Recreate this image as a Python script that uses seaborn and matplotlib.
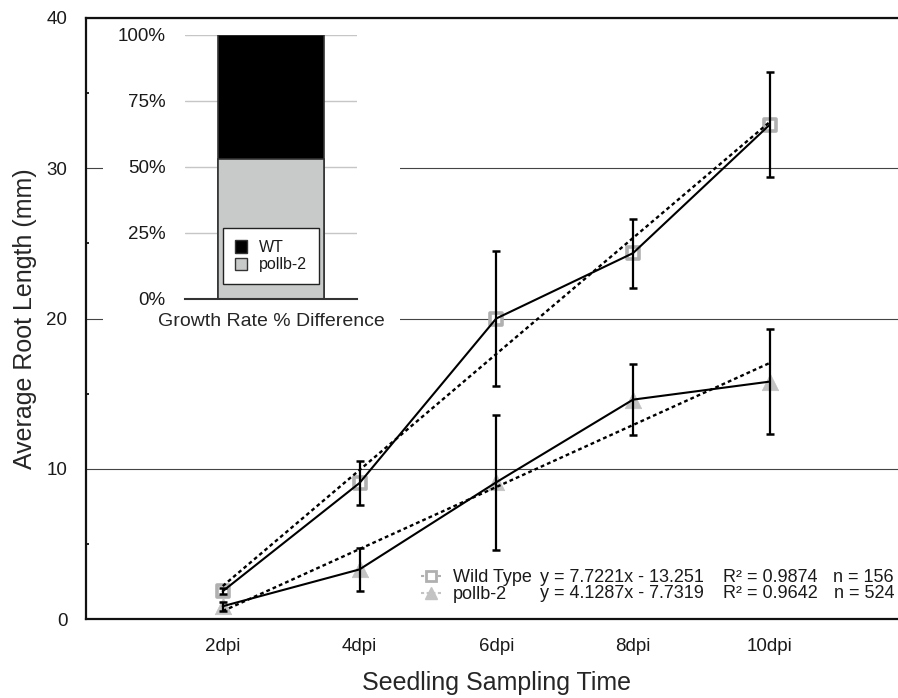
import numpy as np
import pandas as pd
import matplotlib
matplotlib.use("Agg")
import matplotlib.pyplot as plt
from matplotlib.lines import Line2D
from matplotlib.patches import Patch, Rectangle
import seaborn as sns

# ---------------- data ----------------
categories = ["2dpi", "4dpi", "6dpi", "8dpi", "10dpi"]
series_names = ["Wild Type", "pollb-2"]
wt_mean = [1.85, 9.05, 20.0, 24.35, 32.9]
wt_err = [0.2, 1.45, 4.5, 2.3, 3.5]
pol_mean = [0.85, 3.3, 9.1, 14.6, 15.8]
pol_err = [0.3, 1.43, 4.5, 2.35, 3.5]
wt_fit = [7.7221, -13.251]     # slope, intercept
pol_fit = [4.1287, -7.7319]
eq_labels = ["y = 7.7221x - 13.251", "y = 4.1287x - 7.7319"]
r2_labels = ["R\u00b2 = 0.9874", "R\u00b2 = 0.9642"]
n_labels = ["n = 156", "n = 524"]
inset_groups = ["WT", "pollb-2"]
inset_share = [47, 53]          # % of growth rate difference
y_ticks = [0, 10, 20, 30, 40]
inset_ticks = [0, 25, 50, 75, 100]
inset_ticklabels = ["0%", "25%", "50%", "75%", "100%"]

# ---------------- style ----------------
sns.set_style("white")
plt.rcParams["font.family"] = ["Liberation Sans", "DejaVu Sans"]
plt.rcParams["axes.edgecolor"] = "#111111"
plt.rcParams["text.color"] = "#1a1a1a"
plt.rcParams["xtick.color"] = "#111111"
plt.rcParams["ytick.color"] = "#111111"
plt.rcParams["xtick.labelcolor"] = "#1a1a1a"
plt.rcParams["ytick.labelcolor"] = "#1a1a1a"

W, H = 898, 698
fig = plt.figure(figsize=(W / 100, H / 100), dpi=100)

def fx(px):
    return px / W

def fy(py):
    return 1 - py / H

# main axes (extends slightly past the right edge, as in the reference crop)
ax = fig.add_axes([fx(86), fy(619), fx(906.5 - 86), (619 - 18) / H])
x_pos = np.arange(len(categories)) + 2  # x used by the regression equations

# gridlines
ax.set_axisbelow(True)
ax.yaxis.grid(True, color="#444444", linewidth=0.8)
ax.xaxis.grid(False)

# markers
df = pd.DataFrame({
    "x": np.concatenate([x_pos, x_pos]),
    "y": wt_mean + pol_mean,
    "err": wt_err + pol_err,
    "series": [series_names[0]] * len(categories) + [series_names[1]] * len(categories),
})
wt_df = df[df.series == series_names[0]]
pol_df = df[df.series == series_names[1]]

sq_col = "#b0b0b0"
tri_col = "#c3c3c3"
sns.scatterplot(data=wt_df, x="x", y="y", marker="s", s=80, facecolor="white",
                edgecolor=sq_col, linewidth=2.6, ax=ax, zorder=1.5, legend=False)
sns.scatterplot(data=pol_df, x="x", y="y", marker="^", s=140, color=tri_col,
                edgecolor=tri_col, linewidth=0.5, ax=ax, zorder=1.5, legend=False)

# trend lines from the fitted equations
x_fit = np.array([x_pos[0], x_pos[-1]], dtype=float)
for slope, icpt in (wt_fit, pol_fit):
    sns.lineplot(x=x_fit, y=slope * x_fit + icpt, color="black", linewidth=1.7,
                 linestyle=(0, (1.6, 1.3)), ax=ax, zorder=2.5)

# connecting lines
sns.lineplot(data=wt_df, x="x", y="y", color="black", linewidth=1.5, ax=ax,
             errorbar=None, zorder=2.6)
sns.lineplot(data=pol_df, x="x", y="y", color="black", linewidth=1.5, ax=ax,
             errorbar=None, zorder=2.6)

# error bars
for sub in (wt_df, pol_df):
    ax.errorbar(sub["x"], sub["y"], yerr=sub["err"], fmt="none", ecolor="black",
                elinewidth=1.6, capsize=3.2, capthick=1.8, zorder=3)

ax.set_xlim(1, 7)
ax.set_ylim(0, 40)
ax.set_xticks(x_pos)
ax.set_xticklabels(categories)
ax.set_yticks(y_ticks)
ax.set_yticks([5, 15, 25, 35], minor=True)
ax.tick_params(axis="y", which="major", direction="in", length=9.5, width=1.5,
               pad=13.5, labelsize=13.5)
ax.tick_params(axis="y", which="minor", direction="in", length=2.5, width=1.3, left=True)
ax.tick_params(axis="x", which="major", direction="inout", length=7, width=1.5,
               pad=10, labelsize=13.5)
ax.tick_params(axis="x", which="minor", bottom=False)

for side in ("top", "bottom", "left"):
    ax.spines[side].set_visible(True)
    ax.spines[side].set_linewidth(1.6)
    ax.spines[side].set_color("#111111")
ax.spines["right"].set_visible(False)

ax.set_xlabel("Seedling Sampling Time", fontsize=18, labelpad=11.5)
ax.set_ylabel("Average Root Length (mm)", fontsize=18, labelpad=7)

# legend of the main chart
h_wt = Line2D([], [], color=sq_col, linestyle=(0, (1.5, 1.2)), linewidth=1.5,
              marker="s", markersize=7.5, markerfacecolor="white",
              markeredgecolor=sq_col, markeredgewidth=2.0)
h_pol = Line2D([], [], color=tri_col, linestyle=(0, (1.5, 1.2)), linewidth=1.5,
               marker="^", markersize=9, markerfacecolor=tri_col,
               markeredgecolor=tri_col)
leg = ax.legend([h_wt, h_pol], series_names, loc="upper left",
                bbox_to_anchor=(fx(421), fy(569)), bbox_transform=fig.transFigure,
                frameon=False, fontsize=13, handlelength=1.1, handletextpad=0.65,
                labelspacing=0.0, borderpad=0, borderaxespad=0)

row_y = [577, 593.5]
for i in range(2):
    fig.text(fx(540), fy(row_y[i]), eq_labels[i], fontsize=13, va="center", ha="left")
    fig.text(fx(723), fy(row_y[i]), r2_labels[i], fontsize=13, va="center", ha="left")
    fig.text(fx(894), fy(row_y[i]), n_labels[i], fontsize=13, va="center", ha="right")

# white backdrop behind the inset (hides main gridlines there)
fig.patches.append(Rectangle((fx(103), fy(336)), fx(400 - 103), (336 - 21) / H,
                             transform=fig.transFigure, facecolor="white",
                             edgecolor="none", zorder=1))

# ---------------- inset ----------------
iax = fig.add_axes([fx(185), fy(299), fx(357 - 185), (299 - 35) / H], zorder=3)
iax.set_facecolor("white")
iax.set_axisbelow(True)
bar_df = pd.DataFrame({"cat": ["Growth Rate % Difference"],
                       "total": [sum(inset_share)],
                       "lower": [inset_share[1]]})
sns.barplot(data=bar_df, x="cat", y="total", color="black", width=0.62,
            edgecolor="#333333", linewidth=1.2, ax=iax)
sns.barplot(data=bar_df, x="cat", y="lower", color="#c8cac9", width=0.62,
            edgecolor="#333333", linewidth=1.2, ax=iax, saturation=1)
for p in iax.patches[:1]:
    p.set_facecolor("black")
iax.set_xlim(-0.5, 0.5)
iax.set_ylim(0, 100)
iax.set_yticks(inset_ticks)
iax.set_yticklabels(inset_ticklabels)
iax.yaxis.grid(True, color="#c6c6c6", linewidth=1.0)
iax.tick_params(axis="y", length=0, pad=14, labelsize=13.5)
iax.tick_params(axis="x", length=0, labelbottom=False)
for side in ("top", "left", "right"):
    iax.spines[side].set_visible(False)
iax.spines["bottom"].set_visible(True)
iax.spines["bottom"].set_color("#333333")
iax.spines["bottom"].set_linewidth(1.5)
iax.set_xlabel("Growth Rate % Difference", fontsize=14, labelpad=10)
iax.set_ylabel("")

ileg = iax.legend([Patch(facecolor="black", edgecolor="#333333"),
                   Patch(facecolor="#c8cac9", edgecolor="#333333")],
                  inset_groups, loc="upper left",
                  bbox_to_anchor=(fx(222.7), fy(228)), bbox_transform=fig.transFigure,
                  fontsize=11.5, handlelength=0.8, handleheight=0.8,
                  handletextpad=0.7, labelspacing=0.15, borderpad=0.75,
                  borderaxespad=0, fancybox=False, framealpha=1, edgecolor="#222222")
ileg.get_frame().set_linewidth(1.0)

fig.savefig("out.png", dpi=100)
